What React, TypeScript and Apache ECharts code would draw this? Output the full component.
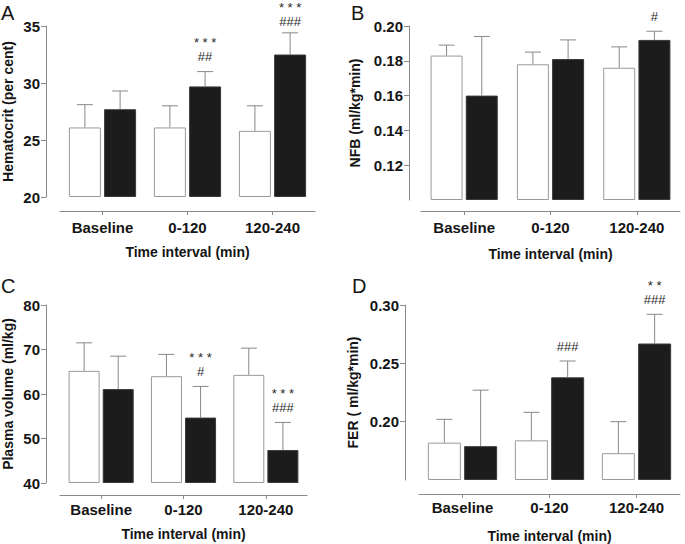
import React, { useEffect, useRef } from 'react';
import * as echarts from 'echarts';

const categories = ['Baseline', '0-120', '120-240'];

// Panel A – Hematocrit
const hctCtrl = [26.1, 26.1, 25.8];
const hctCtrlSd = [2.0, 1.9, 2.2];
const hctTreat = [27.7, 29.7, 32.5];
const hctTreatSd = [1.6, 1.3, 1.9];
const hctMarks = [[], ['* * *', '##'], ['* * *', '###']];
const hctTicks = [20, 25, 30, 35];

// Panel B – NFB
const nfbCtrl = [0.183, 0.178, 0.176];
const nfbCtrlSd = [0.006, 0.007, 0.012];
const nfbTreat = [0.160, 0.181, 0.192];
const nfbTreatSd = [0.034, 0.011, 0.005];
const nfbMarks = [[], [], ['#']];
const nfbTicks = [0.12, 0.14, 0.16, 0.18, 0.2];

// Panel C – Plasma volume
const pvCtrl = [65.2, 64.0, 64.3];
const pvCtrlSd = [6.3, 4.9, 6.0];
const pvTreat = [61.1, 54.7, 47.4];
const pvTreatSd = [7.4, 7.0, 6.2];
const pvMarks = [[], ['* * *', '#'], ['* * *', '###']];
const pvTicks = [40, 50, 60, 70, 80];

// Panel D – FER
const ferCtrl = [0.182, 0.184, 0.173];
const ferCtrlSd = [0.020, 0.024, 0.027];
const ferTreat = [0.179, 0.238, 0.267];
const ferTreatSd = [0.048, 0.014, 0.025];
const ferMarks = [[], ['###'], ['* *', '###']];
const ferTicks = [0.2, 0.25, 0.3];

const FONT = '"Liberation Sans", Arial, Helvetica, sans-serif';
const TEXT = '#151515';
const AXIS = '#8a8a8a';

type Panel = {
  letter: string;
  yName: string;
  ctrl: number[]; ctrlSd: number[];
  treat: number[]; treatSd: number[];
  marks: string[][];
  ticks: number[];
  min: number; max: number; interval: number; decimals: number;
  grid: { left: number; top: number; width: number; height: number };
  yOffset: number; xOffset: number; yNameGap: number; xNameGap: number; xLabelMargin: number;
  barWidth: number;
  letterPos: [number, number];
};

const panels: Panel[] = [
  {
    letter: 'A', yName: 'Hematocrit (per cent)',
    ctrl: hctCtrl, ctrlSd: hctCtrlSd, treat: hctTreat, treatSd: hctTreatSd, marks: hctMarks,
    ticks: hctTicks, min: 20, max: 35, interval: 5, decimals: 0,
    grid: { left: 59, top: 26, width: 256, height: 171 },
    yOffset: 14, xOffset: 14, yNameGap: 31, xNameGap: 34, xLabelMargin: 9, barWidth: 32,
    letterPos: [1, 3],
  },
  {
    letter: 'B', yName: 'NFB (ml/kg*min)',
    ctrl: nfbCtrl, ctrlSd: nfbCtrlSd, treat: nfbTreat, treatSd: nfbTreatSd, marks: nfbMarks,
    ticks: nfbTicks, min: 0.1, max: 0.2, interval: 0.02, decimals: 2,
    grid: { left: 421, top: 26, width: 259, height: 174 },
    yOffset: 12, xOffset: 11, yNameGap: 47, xNameGap: 36, xLabelMargin: 9, barWidth: 32,
    letterPos: [351, 3],
  },
  {
    letter: 'C', yName: 'Plasma volume (ml/kg)',
    ctrl: pvCtrl, ctrlSd: pvCtrlSd, treat: pvTreat, treatSd: pvTreatSd, marks: pvMarks,
    ticks: pvTicks, min: 40, max: 80, interval: 10, decimals: 0,
    grid: { left: 59, top: 305, width: 248, height: 178 },
    yOffset: 14, xOffset: 12, yNameGap: 31, xNameGap: 32, xLabelMargin: 7, barWidth: 31,
    letterPos: [1, 276],
  },
  {
    letter: 'D', yName: 'FER ( ml/kg*min)',
    ctrl: ferCtrl, ctrlSd: ferCtrlSd, treat: ferTreat, treatSd: ferTreatSd, marks: ferMarks,
    ticks: ferTicks, min: 0.15, max: 0.3, interval: 0.05, decimals: 2,
    grid: { left: 419, top: 305, width: 261, height: 175 },
    yOffset: 14, xOffset: 14, yNameGap: 45, xNameGap: 35, xLabelMargin: 6, barWidth: 33,
    letterPos: [352, 276],
  },
];

function buildOption() {
  const grid: any[] = [];
  const xAxis: any[] = [];
  const yAxis: any[] = [];
  const series: any[] = [];
  const graphic: any[] = [];

  panels.forEach((p, i) => {
    grid.push({ ...p.grid, containLabel: false });
    xAxis.push({
      type: 'category', gridIndex: i, data: categories, offset: p.xOffset,
      name: 'Time interval (min)', nameLocation: 'middle', nameGap: p.xNameGap,
      nameTextStyle: { fontFamily: FONT, fontWeight: 'bold', fontSize: 14, color: TEXT },
      axisLine: { show: true, lineStyle: { color: AXIS, width: 1 } },
      axisTick: { show: true, alignWithLabel: true, length: 4, lineStyle: { color: AXIS } },
      axisLabel: { fontFamily: FONT, fontWeight: 'bold', fontSize: 15, color: TEXT, margin: p.xLabelMargin },
      splitLine: { show: false },
    });
    yAxis.push({
      type: 'value', gridIndex: i, min: p.min, max: p.max, interval: p.interval,
      startValue: p.min, offset: p.yOffset,
      name: p.yName, nameLocation: 'middle', nameRotate: 90, nameGap: p.yNameGap,
      nameTextStyle: { fontFamily: FONT, fontWeight: 'bold', fontSize: 14, color: TEXT },
      axisLine: { show: true, lineStyle: { color: AXIS, width: 1 } },
      axisTick: { show: true, length: 5, lineStyle: { color: AXIS }, customValues: p.ticks },
      axisLabel: {
        fontFamily: FONT, fontWeight: 'bold', fontSize: 15, color: TEXT, margin: 6,
        customValues: p.ticks,
        formatter: (v: number) => v.toFixed(p.decimals),
      },
      splitLine: { show: false },
    });
    const gap = p.barWidth * 0.1;
    series.push({
      type: 'bar', xAxisIndex: i, yAxisIndex: i, data: p.ctrl, barWidth: p.barWidth, barGap: '10%',
      itemStyle: { color: '#ffffff', borderColor: '#9a9a9a', borderWidth: 1 },
    });
    series.push({
      type: 'bar', xAxisIndex: i, yAxisIndex: i, data: p.treat, barWidth: p.barWidth, barGap: '10%',
      itemStyle: { color: '#1c1c1c', borderColor: '#3a3a3a', borderWidth: 1 },
    });
    const half = (p.barWidth + gap) / 2;
    const mk = (vals: number[], sds: number[], off: number, marks: string[][] | null) => ({
      type: 'custom', xAxisIndex: i, yAxisIndex: i, clip: false, z: 5,
      data: vals.map((v, k) => [k, v, sds[k]]),
      encode: { x: 0, y: 1 },
      renderItem: (params: any, api: any) => {
        const idx = api.value(0);
        const m = api.value(1);
        const s = api.value(2);
        const p0 = api.coord([idx, m]);
        const p1 = api.coord([idx, m + s]);
        const x = p0[0] + off;
        const children: any[] = [
          { type: 'line', shape: { x1: x, y1: p0[1], x2: x, y2: p1[1] }, style: { stroke: '#888', lineWidth: 1 } },
          { type: 'line', shape: { x1: x - 8, y1: p1[1], x2: x + 8, y2: p1[1] }, style: { stroke: '#888', lineWidth: 1 } },
        ];
        const lines = marks ? marks[params.dataIndex] : [];
        if (lines && lines.length) {
          const n = lines.length;
          const step = 14;
          let bottomY = p1[1] - 15;
          const topY = bottomY - (n - 1) * step;
          if (topY < 7) bottomY += 7 - topY;
          lines.forEach((t, j) => {
            const fromBottom = n - 1 - j;
            const yy = bottomY - fromBottom * step;
            children.push({
              type: 'text',
              style: {
                x, y: yy, text: t, align: 'center', verticalAlign: 'middle',
                fontFamily: FONT, fontSize: 13, lineHeight: 13, fill: '#2a2a2a',
              },
            });
          });
        }
        return { type: 'group', children };
      },
    });
    series.push(mk(p.ctrl, p.ctrlSd, -half, null));
    series.push(mk(p.treat, p.treatSd, half, p.marks));

    graphic.push({
      type: 'text', left: p.letterPos[0], top: p.letterPos[1],
      style: { text: p.letter, fontFamily: FONT, fontSize: 20, fill: TEXT },
    });
  });

  return { animation: false, backgroundColor: '#ffffff', grid, xAxis, yAxis, series, graphic };
}

export default function App() {
  const ref = useRef<HTMLDivElement>(null);
  useEffect(() => {
    if (!ref.current) return;
    const chart = echarts.init(ref.current, undefined, { renderer: 'svg' });
    chart.setOption(buildOption() as any);
    return () => chart.dispose();
  }, []);
  return (
    <div
      ref={ref}
      style={{ position: 'absolute', left: 0, top: 0, width: 685, height: 544, background: '#fff' }}
    />
  );
}
